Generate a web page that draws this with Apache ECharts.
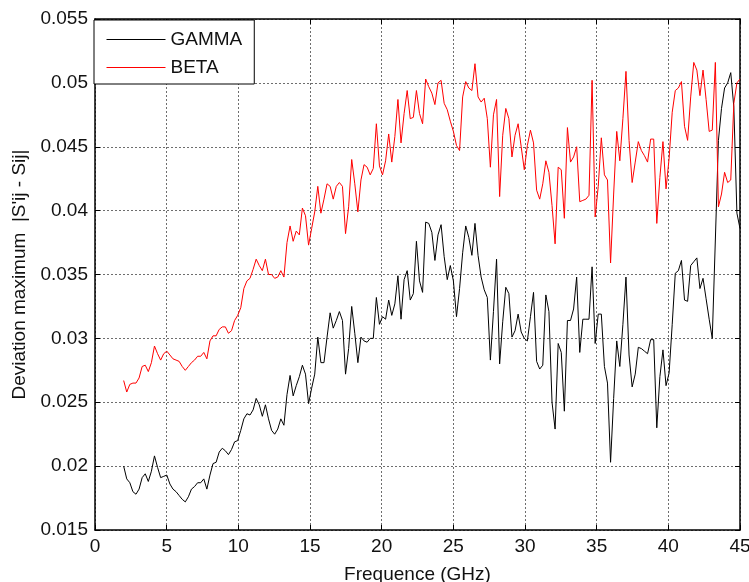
<!DOCTYPE html>
<html>
<head>
<meta charset="utf-8">
<title>Deviation maximum</title>
<script src="https://cdn.jsdelivr.net/npm/echarts@6/dist/echarts.min.js"></script>
<style>
    html, body { margin: 0; padding: 0; background: #fff; }
    .Deviation { width: 749px; height: 582px; }
</style>
</head>
<body>
<div class="Deviation"></div>
<script>
// frequence sweep (GHz)
var freq = [
    2, 2.215, 2.43, 2.645, 2.86, 3.075, 3.29, 3.505, 3.72, 3.935, 4.15, 4.365, 4.58, 4.795, 5.01, 5.225, 5.44, 5.655, 5.87, 6.085,
    6.3, 6.515, 6.73, 6.945, 7.16, 7.375, 7.59, 7.805, 8.02, 8.235, 8.45, 8.665, 8.88, 9.095, 9.31, 9.525, 9.74, 9.955, 10.17, 10.385,
    10.6, 10.815, 11.03, 11.245, 11.46, 11.675, 11.89, 12.105, 12.32, 12.535, 12.75, 12.965, 13.18, 13.395, 13.61, 13.825, 14.04, 14.255, 14.47, 14.685,
    14.9, 15.115, 15.33, 15.545, 15.76, 15.975, 16.19, 16.405, 16.62, 16.835, 17.05, 17.265, 17.48, 17.695, 17.91, 18.125, 18.34, 18.555, 18.77, 18.985,
    19.2, 19.415, 19.63, 19.845, 20.06, 20.275, 20.49, 20.705, 20.92, 21.135, 21.35, 21.565, 21.78, 21.995, 22.21, 22.425, 22.64, 22.855, 23.07, 23.285,
    23.5, 23.715, 23.93, 24.145, 24.36, 24.575, 24.79, 25.005, 25.22, 25.435, 25.65, 25.865, 26.08, 26.295, 26.51, 26.725, 26.94, 27.155, 27.37, 27.585,
    27.8, 28.015, 28.23, 28.445, 28.66, 28.875, 29.09, 29.305, 29.52, 29.735, 29.95, 30.165, 30.38, 30.595, 30.81, 31.025, 31.24, 31.455, 31.67, 31.885,
    32.1, 32.315, 32.53, 32.745, 32.96, 33.175, 33.39, 33.605, 33.82, 34.035, 34.25, 34.465, 34.68, 34.895, 35.11, 35.325, 35.54, 35.755, 35.97, 36.185,
    36.4, 36.615, 36.83, 37.045, 37.26, 37.475, 37.69, 37.905, 38.12, 38.335, 38.55, 38.765, 38.98, 39.195, 39.41, 39.625, 39.84, 40.055, 40.27, 40.485,
    40.7, 40.915, 41.13, 41.345, 41.56, 41.775, 41.99, 42.205, 42.42, 42.635, 42.85, 43.065, 43.28, 43.495, 43.71, 43.925, 44.14, 44.355, 44.57, 44.785,
    45
];

var gamma = [
    0.0200, 0.0190, 0.0187, 0.0180, 0.0178, 0.0182, 0.0191, 0.0194, 0.0188, 0.0196, 0.0208, 0.0199, 0.0191, 0.0192, 0.0193, 0.0186, 0.0182, 0.0180, 0.0177, 0.0174,
    0.0172, 0.0176, 0.0182, 0.0184, 0.0187, 0.0187, 0.0190, 0.0182, 0.0193, 0.0202, 0.0203, 0.0211, 0.0214, 0.0212, 0.0209, 0.0213, 0.0219, 0.0220, 0.0228, 0.0237,
    0.0241, 0.0240, 0.0244, 0.0253, 0.0248, 0.0239, 0.0248, 0.0237, 0.0228, 0.0225, 0.0229, 0.0237, 0.0232, 0.0256, 0.0271, 0.0255, 0.0263, 0.0270, 0.0279, 0.0272,
    0.0249, 0.0261, 0.0272, 0.0301, 0.0281, 0.0281, 0.0301, 0.0320, 0.0308, 0.0314, 0.0321, 0.0314, 0.0272, 0.0292, 0.0325, 0.0304, 0.0281, 0.0301, 0.0298, 0.0297,
    0.0300, 0.0300, 0.0332, 0.0311, 0.0317, 0.0315, 0.0330, 0.0318, 0.0327, 0.0349, 0.0315, 0.0346, 0.0353, 0.0330, 0.0335, 0.0376, 0.0345, 0.0336, 0.0391, 0.0390,
    0.0383, 0.0361, 0.0381, 0.0389, 0.0364, 0.0346, 0.0357, 0.0345, 0.0317, 0.0339, 0.0367, 0.0388, 0.0379, 0.0365, 0.0390, 0.0365, 0.0348, 0.0338, 0.0332, 0.0283,
    0.0321, 0.0362, 0.0280, 0.0313, 0.0340, 0.0335, 0.0301, 0.0306, 0.0319, 0.0305, 0.0300, 0.0298, 0.0317, 0.0336, 0.0282, 0.0276, 0.0279, 0.0334, 0.0321, 0.0250,
    0.0229, 0.0296, 0.0289, 0.0243, 0.0314, 0.0314, 0.0323, 0.0348, 0.0289, 0.0315, 0.0315, 0.0315, 0.0356, 0.0296, 0.0319, 0.0319, 0.0278, 0.0265, 0.0203, 0.0253,
    0.0298, 0.0278, 0.0311, 0.0348, 0.0287, 0.0262, 0.0272, 0.0293, 0.0292, 0.0290, 0.0288, 0.0299, 0.0299, 0.0230, 0.0270, 0.0291, 0.0263, 0.0273, 0.0311, 0.0351,
    0.0353, 0.0361, 0.0330, 0.0329, 0.0357, 0.0360, 0.0363, 0.0339, 0.0347, 0.0331, 0.0315, 0.0300, 0.0377, 0.0455, 0.0480, 0.0496, 0.0500, 0.0508, 0.0481, 0.0398,
    0.0386
];

var beta = [
    0.0267, 0.0258, 0.0264, 0.0265, 0.0265, 0.0269, 0.0278, 0.0279, 0.0274, 0.0281, 0.0294, 0.0288, 0.0283, 0.0288, 0.0290, 0.0287, 0.0284, 0.0283, 0.0282, 0.0278,
    0.0275, 0.0278, 0.0281, 0.0283, 0.0286, 0.0286, 0.0289, 0.0284, 0.0298, 0.0302, 0.0302, 0.0307, 0.0309, 0.0309, 0.0304, 0.0306, 0.0314, 0.0318, 0.0324, 0.0339,
    0.0345, 0.0347, 0.0354, 0.0362, 0.0357, 0.0353, 0.0362, 0.0350, 0.0350, 0.0347, 0.0348, 0.0353, 0.0348, 0.0375, 0.0388, 0.0376, 0.0384, 0.0381, 0.0402, 0.0396,
    0.0373, 0.0386, 0.0399, 0.0419, 0.0398, 0.0409, 0.0421, 0.0419, 0.0409, 0.0419, 0.0422, 0.0419, 0.0382, 0.0403, 0.0440, 0.0421, 0.0399, 0.0424, 0.0436, 0.0434,
    0.0428, 0.0433, 0.0468, 0.0435, 0.0428, 0.0439, 0.0460, 0.0438, 0.0458, 0.0487, 0.0453, 0.0476, 0.0494, 0.0472, 0.0473, 0.0494, 0.0476, 0.0468, 0.0503, 0.0497,
    0.0492, 0.0483, 0.0500, 0.0502, 0.0484, 0.0479, 0.0470, 0.0462, 0.0451, 0.0447, 0.0489, 0.0501, 0.0496, 0.0494, 0.0515, 0.0489, 0.0485, 0.0488, 0.0472, 0.0434,
    0.0475, 0.0487, 0.0411, 0.0459, 0.0480, 0.0472, 0.0442, 0.0459, 0.0468, 0.0450, 0.0432, 0.0451, 0.0463, 0.0453, 0.0416, 0.0409, 0.0421, 0.0439, 0.0430, 0.0404,
    0.0374, 0.0434, 0.0432, 0.0394, 0.0465, 0.0438, 0.0442, 0.0450, 0.0407, 0.0408, 0.0409, 0.0412, 0.0502, 0.0395, 0.0419, 0.0457, 0.0428, 0.0424, 0.0359, 0.0413,
    0.0462, 0.0439, 0.0472, 0.0509, 0.0455, 0.0422, 0.0438, 0.0454, 0.0447, 0.0443, 0.0438, 0.0456, 0.0456, 0.0390, 0.0426, 0.0454, 0.0417, 0.0441, 0.0477, 0.0494,
    0.0496, 0.0501, 0.0466, 0.0455, 0.0489, 0.0516, 0.0510, 0.0490, 0.0510, 0.0487, 0.0462, 0.0463, 0.0516, 0.0403, 0.0413, 0.0430, 0.0422, 0.0424, 0.0484, 0.0500,
    0.0503
];

var seriesNames = ['GAMMA', 'BETA'];

(function () {
    var myChart = echarts.init(document.querySelector(".Deviation"));
    var font = "'Liberation Sans', Arial, sans-serif";

    function pairs(values) {
        return freq.map(function (f, i) { return [f, values[i]]; });
    }

    var gridLine = { show: true, lineStyle: { color: '#6e6e6e', type: [2, 2], width: 1 } };
    var axisLine = { show: true, onZero: false, lineStyle: { color: '#000', width: 1.5 } };
    var tick = { show: true, inside: true, length: 5, lineStyle: { color: '#000', width: 1 } };

    var option = {
        animation: false,
        backgroundColor: '#fff',
        grid: {
            left: 95,
            right: 9,
            top: 19,
            bottom: 52,
            containLabel: false,
            outerBoundsMode: 'none'
        },
        legend: {
            data: seriesNames,
            orient: 'vertical',
            left: 94,
            top: 20,
            padding: [10, 12, 7, 12],
            itemWidth: 59,
            itemHeight: 14,
            itemGap: 9,
            backgroundColor: '#fff',
            borderColor: '#000',
            borderWidth: 1,
            itemStyle: { opacity: 0 },
            lineStyle: { width: 1 },
            textStyle: { fontFamily: font, fontSize: 19, color: '#111' }
        },
        xAxis: [{
            type: 'value',
            min: 0,
            max: 45,
            interval: 5,
            name: 'Frequence (GHz)',
            nameLocation: 'middle',
            nameGap: 35,
            nameTextStyle: { fontFamily: font, fontSize: 19, color: '#111' },
            axisLine: axisLine,
            axisTick: tick,
            axisLabel: { fontFamily: font, fontSize: 19, color: '#111', margin: 7 },
            splitLine: gridLine
        }, {
            type: 'value',
            position: 'top',
            min: 0,
            max: 45,
            interval: 5,
            axisLine: axisLine,
            axisTick: tick,
            axisLabel: { show: false },
            splitLine: { show: false }
        }],
        yAxis: [{
            type: 'value',
            min: 0.015,
            max: 0.055,
            interval: 0.005,
            name: "Deviation maximum  |S'ij - Sij|",
            nameLocation: 'middle',
            nameGap: 66,
            nameTextStyle: { fontFamily: font, fontSize: 19, color: '#111' },
            axisLine: axisLine,
            axisTick: tick,
            axisLabel: {
                fontFamily: font,
                fontSize: 19,
                color: '#111',
                margin: 7,
                formatter: function (v) { return String(+v.toFixed(3)); }
            },
            splitLine: gridLine
        }, {
            type: 'value',
            position: 'right',
            min: 0.015,
            max: 0.055,
            interval: 0.005,
            axisLine: axisLine,
            axisTick: tick,
            axisLabel: { show: false },
            splitLine: { show: false }
        }],
        series: [{
            name: seriesNames[0],
            type: 'line',
            symbol: 'none',
            showSymbol: false,
            lineStyle: { color: '#000', width: 1 },
            itemStyle: { color: '#000' },
            data: pairs(gamma)
        }, {
            name: seriesNames[1],
            type: 'line',
            symbol: 'none',
            showSymbol: false,
            lineStyle: { color: '#ff0000', width: 1 },
            itemStyle: { color: '#ff0000' },
            data: pairs(beta)
        }]
    };
    myChart.setOption(option);
    window.addEventListener("resize", function () {
        myChart.resize();
    });
})();
</script>
</body>
</html>
